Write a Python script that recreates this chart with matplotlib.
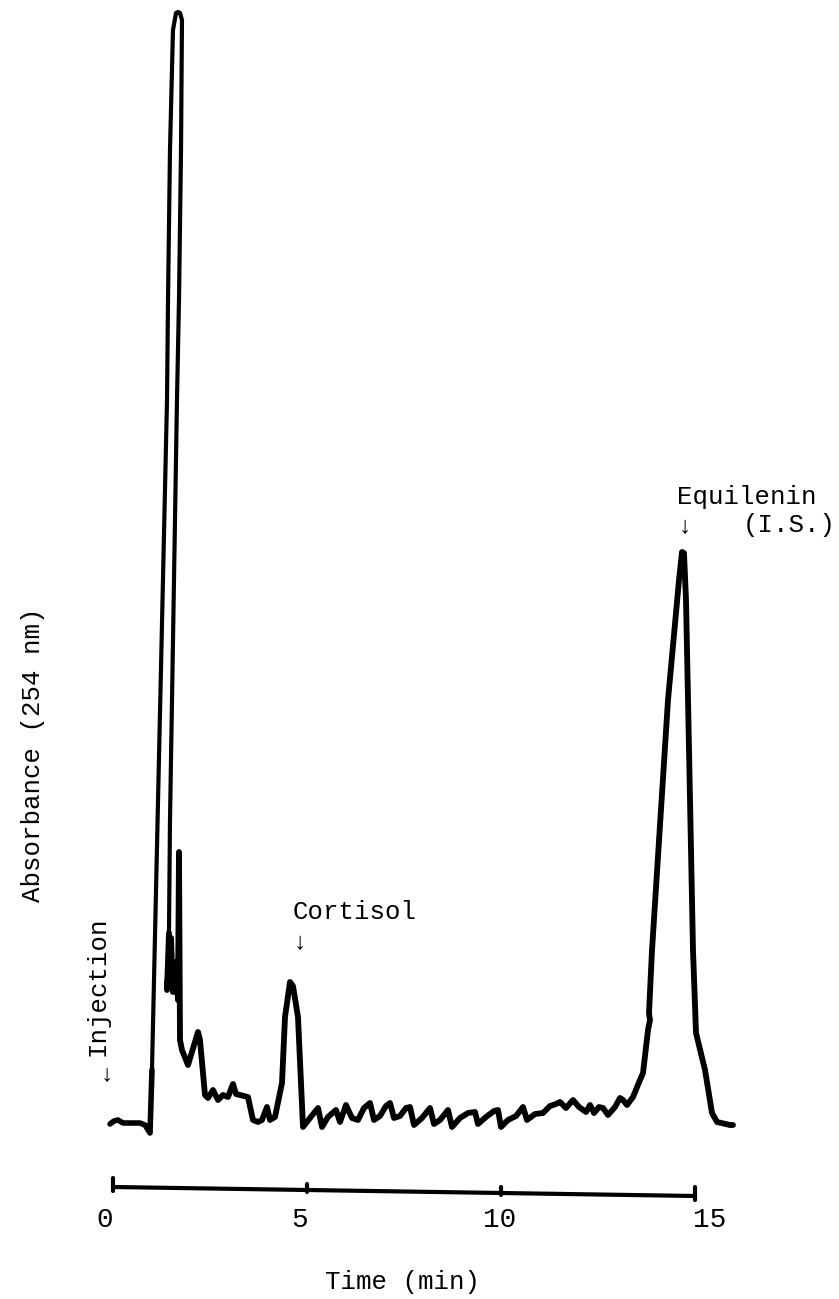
import matplotlib
matplotlib.use("Agg")
import matplotlib.pyplot as plt

# ---- data (time in min, absorbance in arbitrary units) ----
time_min = [-0.077, 0.026, 0.129, 0.258, 0.490, 0.696, 0.825, 0.954,
            1.005, 1.134, 1.392, 1.418, 1.469, 1.546, 1.624, 1.675, 1.727, 1.778,
            1.753, 1.701, 1.649, 1.521, 1.469, 1.443,
            1.392, 1.495, 1.546, 1.624, 1.675, 1.701, 1.727, 1.778, 1.933,
            2.191, 2.242, 2.371, 2.448, 2.577, 2.706, 2.835, 2.964, 3.093, 3.170,
            3.479, 3.608, 3.737, 3.840, 3.969, 4.046, 4.175,
            4.356, 4.433, 4.562, 4.639, 4.768, 4.897,
            5.077, 5.284, 5.387, 5.541, 5.747, 5.851, 6.005, 6.160, 6.314, 6.469,
            6.624, 6.727, 6.881, 7.036, 7.139, 7.242, 7.397, 7.552, 7.655, 7.758,
            7.964, 8.170, 8.273, 8.428, 8.634, 8.737, 8.943, 9.149, 9.330, 9.407,
            9.613, 9.820, 9.923, 10.000, 10.180, 10.387, 10.567, 10.670, 10.876,
            11.082, 11.263, 11.418, 11.521, 11.675, 11.856, 12.010, 12.191, 12.294,
            12.397, 12.526, 12.629, 12.758, 12.938, 13.067, 13.144, 13.247, 13.402,
            13.582, 13.660, 13.789, 13.840, 13.814, 13.892,
            14.304, 14.588, 14.665, 14.716, 14.768, 14.820, 14.948,
            15.026, 15.258, 15.438, 15.567, 15.902, 15.979]
absorbance = [0.1, 0.4, 0.5, 0.2, 0.2, 0.2, 0.0, -0.8,
              5.5, 27.8, 72.5, 82.5, 97.5, 109.5, 111.2, 111.3, 111.2, 110.5,
              97.5, 82.5, 72.5, 42.5, 30.5, 19.2,
              13.5, 18.7, 13.3, 16.3, 12.5, 27.3, 8.5, 7.5, 6.0,
              9.3, 8.5, 3.0, 2.7, 3.5, 2.5, 3.0, 2.8, 4.1, 3.1,
              2.8, 0.5, 0.3, 0.5, 1.8, 0.5, 0.8,
              4.2, 10.8, 14.3, 13.9, 10.8, -0.2,
              0.7, 1.7, -0.2, 0.8, 1.5, 0.3, 2.0, 0.7, 0.5, 1.7,
              2.2, 0.5, 0.9, 1.9, 2.2, 0.7, 0.9, 1.7, 1.8, 0.0,
              0.7, 1.7, 0.1, 0.5, 1.5, -0.2, 0.7, 1.2, 1.3, 0.1,
              0.8, 1.4, 1.5, -0.2, 0.5, 0.9, 1.8, 0.5, 1.1,
              1.2, 1.9, 2.1, 2.3, 1.7, 2.5, 1.8, 1.3, 2.0,
              1.2, 1.8, 1.7, 1.0, 1.8, 2.7, 2.5, 2.0, 2.8,
              4.5, 5.2, 9.5, 10.5, 11.2, 17.5,
              42.5, 54.5, 57.3, 57.2, 52.5, 42.5, 17.5,
              9.2, 5.5, 1.2, 0.3, 0.0, 0.0]

scale_ticks = [0, 5, 10, 15]
scale_labels = ["0", "5", "10", "15"]
scale_level = [-6.2, -6.5, -6.8, -7.1]   # position of the hand-drawn time bar

# ---- figure ----
W, H, DPI = 839, 1299, 100
fig = plt.figure(figsize=(W / DPI, H / DPI), dpi=DPI)
ax = fig.add_axes([0, 0, 1, 1])
ax.set_xlim(-2.912, 18.711)
ax.set_ylim(-17.4, 112.5)
ax.axis("off")

mono = ["Liberation Mono", "DejaVu Sans Mono"]
fs = 18.5
arrow_fs = 17

# trace: baseline segment, big peak (thinner pen), rest
i_peak_start, i_peak_end = 8, 23
ax.plot(time_min[:i_peak_start + 1], absorbance[:i_peak_start + 1], color="black",
        lw=4.0, solid_joinstyle="round", solid_capstyle="round")
ax.plot(time_min[i_peak_start:i_peak_end + 1], absorbance[i_peak_start:i_peak_end + 1],
        color="black", lw=3.0, solid_joinstyle="round", solid_capstyle="round")
ax.plot(time_min[i_peak_end:], absorbance[i_peak_end:], color="black",
        lw=4.2, solid_joinstyle="round", solid_capstyle="round")

# time scale bar
ax.plot(scale_ticks, scale_level, color="black", lw=3.0, solid_capstyle="round")
tick_half = [0.7, 0.4, 0.4, 0.7]
for t, lv, h in zip(scale_ticks, scale_level, tick_half):
    ax.plot([t, t], [lv - h * 0.6, lv + h + 0.2], color="black", lw=3.0,
            solid_capstyle="round")

label_dx = [-8, -7, -1, 15]   # pixel offsets of the printed numbers
for t, lab, dx in zip(scale_ticks, scale_labels, label_dx):
    ax.annotate(lab, xy=(t, -9.5), xytext=(dx * 72 / DPI, 0), textcoords="offset points",
                ha="center", va="center", fontsize=20, family=mono)

ax.text(7.474, -15.7, "Time (min)", ha="center", va="center", fontsize=fs, family=mono)
ax.text(-2.062, 37.0, "Absorbance (254 nm)", ha="center", va="center", rotation=90,
        fontsize=fs, family=mono)

# annotations
ax.text(-0.412, 13.9, "Injection", ha="center", va="center", rotation=90,
        fontsize=fs, family=mono)
ax.text(-0.155, 5.0, "↓", ha="center", va="center", fontsize=arrow_fs, family=mono)

ax.text(4.639, 21.3, "Cortisol", ha="left", va="center", fontsize=fs, family=mono)
ax.text(4.820, 18.2, "↓", ha="center", va="center", fontsize=arrow_fs, family=mono)

ax.text(14.536, 62.8, "Equilenin", ha="left", va="center", fontsize=fs, family=mono)
ax.text(16.237, 60.0, "(I.S.)", ha="left", va="center", fontsize=fs, family=mono)
ax.text(14.742, 59.9, "↓", ha="center", va="center", fontsize=arrow_fs, family=mono)

fig.savefig("out.png", dpi=DPI, facecolor="white")
